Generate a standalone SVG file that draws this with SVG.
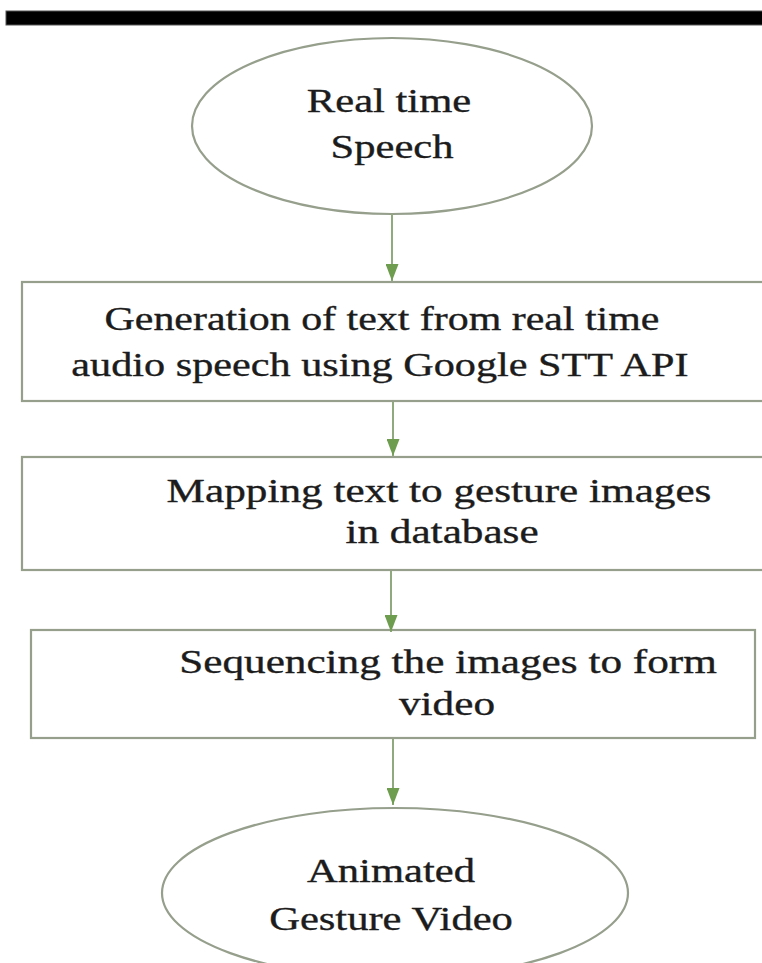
<svg xmlns="http://www.w3.org/2000/svg" width="762" height="963" viewBox="0 0 762 963">
<style>
.t{font-family:"Liberation Serif","Times New Roman",serif;font-size:33px;fill:#1c1c1c;stroke:#1c1c1c;stroke-width:0.35;text-anchor:middle}
.node{fill:#ffffff;stroke:#959f8c;stroke-width:2.2}
.edge{stroke:#8fab7d;stroke-width:2;fill:none}
</style>
<defs>
<marker id="a" viewBox="0 0 17 13" markerWidth="17" markerHeight="13" refX="17" refY="6.5" orient="auto" markerUnits="userSpaceOnUse">
<path d="M0,0 L17,6.5 L0,13 Z" fill="#6f9d50"/>
</marker>
</defs>
<rect x="0" y="0" width="762" height="963" fill="#ffffff"/>
<rect x="6" y="11" width="760" height="14" fill="#000000" stroke="#555" stroke-width="1"/>
<g id="start">
<ellipse class="node" cx="392" cy="126" rx="200" ry="88"/>
<text class="t" transform="translate(389 112) scale(1.29 1)" x="0" y="0">Real time</text>
<text class="t" transform="translate(392 158) scale(1.29 1)" x="0" y="0">Speech</text>
</g>
<g id="stt">
<rect class="node" x="22" y="282" width="760" height="119"/>
<text class="t" transform="translate(382 330) scale(1.27 1)" x="0" y="0">Generation of text from real time</text>
<text class="t" transform="translate(380 376) scale(1.28 1)" x="0" y="0">audio speech using Google STT API</text>
</g>
<g id="map">
<rect class="node" x="22" y="457" width="760" height="113"/>
<text class="t" transform="translate(439 502) scale(1.31 1)" x="0" y="0">Mapping text to gesture images</text>
<text class="t" transform="translate(442 543) scale(1.31 1)" x="0" y="0">in database</text>
</g>
<g id="seq">
<rect class="node" x="31" y="630" width="724" height="108"/>
<text class="t" transform="translate(448 673) scale(1.31 1)" x="0" y="0">Sequencing the images to form</text>
<text class="t" transform="translate(447 715) scale(1.31 1)" x="0" y="0">video</text>
</g>
<g id="end">
<ellipse class="node" cx="395" cy="893" rx="233" ry="85"/>
<text class="t" transform="translate(391 882) scale(1.29 1)" x="0" y="0">Animated</text>
<text class="t" transform="translate(391 930) scale(1.29 1)" x="0" y="0">Gesture Video</text>
</g>
<g id="connectors">
<line class="edge" x1="392" y1="214" x2="392" y2="281" marker-end="url(#a)"/>
<line class="edge" x1="393" y1="402" x2="393" y2="456" marker-end="url(#a)"/>
<line class="edge" x1="391" y1="571" x2="391" y2="632" marker-end="url(#a)"/>
<line class="edge" x1="393" y1="739" x2="393" y2="805" marker-end="url(#a)"/>
</g>
</svg>
